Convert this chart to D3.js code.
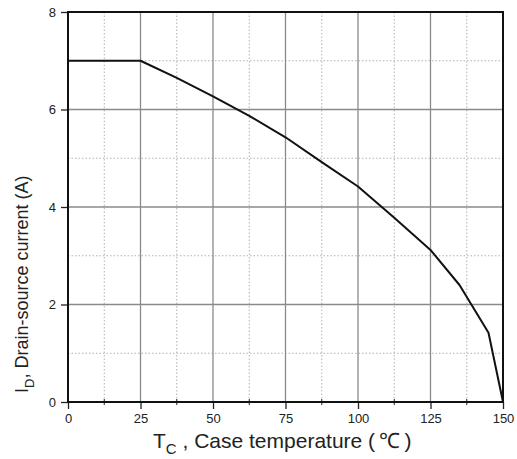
<!DOCTYPE html>
<html><head><meta charset="utf-8">
<script src="https://cdn.jsdelivr.net/npm/d3@7"></script>
<style>body{margin:0;background:#fff}svg{display:block}</style>
</head><body>
<svg id="c" width="517" height="459"></svg>
<script>
const temps = [0, 25, 37.5, 50, 62.5, 75, 87.5, 100, 112.5, 125, 135, 145, 150];
const currents = [7, 7, 6.65, 6.27, 5.87, 5.43, 4.92, 4.42, 3.78, 3.12, 2.4, 1.42, 0];
const xTicks = [0, 25, 50, 75, 100, 125, 150];
const yTicks = [0, 2, 4, 6, 8];
const xMinor = [12.5, 37.5, 62.5, 87.5, 112.5, 137.5];
const yMinor = [1, 3, 5, 7];

const svg = d3.select("#c");
const L = 68, R = 503, T = 12, B = 402;
const x = d3.scaleLinear().domain([0, 150]).range([L, R]);
const y = d3.scaleLinear().domain([0, 8]).range([B, T]);
const font = "Liberation Sans, Arial, sans-serif";

// minor grid (dotted)
svg.append("g").selectAll("line").data(xMinor).join("line")
  .attr("x1", d => x(d)).attr("x2", d => x(d)).attr("y1", T).attr("y2", B)
  .attr("stroke", "#b0b0b0").attr("stroke-width", 1).attr("stroke-dasharray", "1.5,2");
svg.append("g").selectAll("line").data(yMinor).join("line")
  .attr("y1", d => y(d)).attr("y2", d => y(d)).attr("x1", L).attr("x2", R)
  .attr("stroke", "#b0b0b0").attr("stroke-width", 1).attr("stroke-dasharray", "1.5,2");
// major grid
svg.append("g").selectAll("line").data(xTicks.slice(1, -1)).join("line")
  .attr("x1", d => x(d)).attr("x2", d => x(d)).attr("y1", T).attr("y2", B)
  .attr("stroke", "#8a8a8a").attr("stroke-width", 1.3);
svg.append("g").selectAll("line").data(yTicks.slice(1, -1)).join("line")
  .attr("y1", d => y(d)).attr("y2", d => y(d)).attr("x1", L).attr("x2", R)
  .attr("stroke", "#8a8a8a").attr("stroke-width", 1.3);

// axes
const xAxis = d3.axisBottom(x).tickValues(xTicks).tickSize(7).tickPadding(5);
const gx = svg.append("g").attr("transform", `translate(0,${B})`).call(xAxis);
gx.select(".domain").remove();
gx.selectAll("line").attr("stroke", "#222").attr("stroke-width", 1.3);
gx.selectAll("text").attr("font-family", font).attr("font-size", 13).attr("fill", "#222");
gx.append("g").selectAll("line").data(xMinor).join("line")
  .attr("x1", d => x(d)).attr("x2", d => x(d)).attr("y1", -3).attr("y2", 3)
  .attr("stroke", "#222").attr("stroke-width", 1);

const yAxis = d3.axisLeft(y).tickValues(yTicks).tickSize(7).tickPadding(5);
const gy = svg.append("g").attr("transform", `translate(${L},0)`).call(yAxis);
gy.select(".domain").remove();
gy.selectAll("line").attr("stroke", "#222").attr("stroke-width", 1.3);
gy.selectAll("text").attr("font-family", font).attr("font-size", 13).attr("fill", "#222");

// frame
svg.append("rect").attr("x", L).attr("y", T).attr("width", R - L).attr("height", B - T)
  .attr("fill", "none").attr("stroke", "#111").attr("stroke-width", 2);

// curve
const line = d3.line().x((d, i) => x(temps[i])).y((d, i) => y(currents[i]));
svg.append("path").datum(currents).attr("d", line)
  .attr("fill", "none").attr("stroke", "#111").attr("stroke-width", 2).attr("stroke-linejoin", "round");

// x title
const xt = svg.append("text").attr("x", 153).attr("y", 448)
  .attr("font-family", font).attr("font-size", 21).attr("fill", "#222");
xt.append("tspan").text("T");
xt.append("tspan").attr("font-size", 15).attr("dy", 6).text("C");
xt.append("tspan").attr("dy", -6).text(" , Case temperature (\u2009℃\u2009)");

// y title
const yt = svg.append("text").attr("transform", "translate(28,393) rotate(-90)")
  .attr("font-family", font).attr("font-size", 18).attr("fill", "#222");
yt.append("tspan").text("I");
yt.append("tspan").attr("font-size", 13).attr("dy", 6).text("D");
yt.append("tspan").attr("dy", -6).text(", Drain-source current (A)");
</script>
</body></html>
